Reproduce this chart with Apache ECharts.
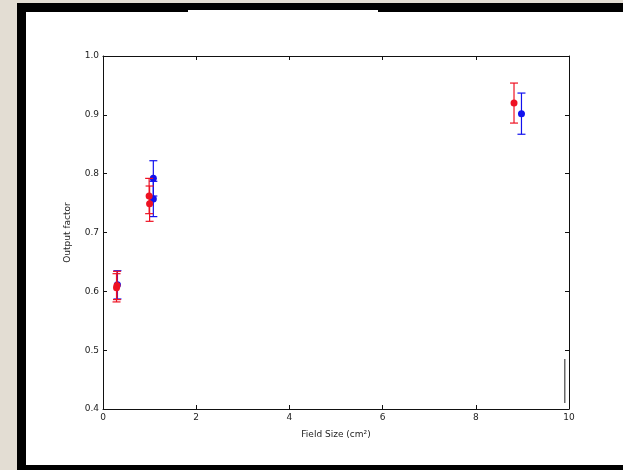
<!DOCTYPE html>
<html><head><meta charset="utf-8">
<script src="https://cdn.jsdelivr.net/npm/echarts@6/dist/echarts.min.js"></script>
<style>html,body{margin:0;padding:0;background:#fff}#c{width:623px;height:470px}</style>
</head><body><div id="c"></div>
<script>
// Field size (cm²) and output factor values, red series
const redX = [0.29, 0.30, 0.99, 1.00, 8.82];
const redY = [0.606, 0.610, 0.762, 0.749, 0.920];
const redErr = [0.024, 0.024, 0.030, 0.030, 0.034];
// blue series
const blueX = [0.31, 1.08, 1.08, 8.98];
const blueY = [0.611, 0.792, 0.757, 0.902];
const blueErr = [0.024, 0.030, 0.030, 0.035];
// axis ticks
const xTicks = [0, 2, 4, 6, 8, 10];
const yTicks = [0.4, 0.5, 0.6, 0.7, 0.8, 0.9, 1.0];
// stray line visible in the image
const strayX = [9.91, 9.91];
const strayY = [0.41, 0.485];

const RED = '#ee1122', BLUE = '#1111ee';
const FONT = 'DejaVu Sans';

function errData(xs, ys, es) { return xs.map((x, i) => [x, ys[i] - es[i], ys[i] + es[i]]); }
function errSeries(xs, ys, es, color, z) {
  return {
    type: 'custom', data: errData(xs, ys, es), z: z, silent: true,
    renderItem: function (params, api) {
      const lo = api.coord([api.value(0), api.value(1)]);
      const hi = api.coord([api.value(0), api.value(2)]);
      const w = 4;
      const st = { stroke: color, lineWidth: 1.2 };
      return { type: 'group', children: [
        { type: 'line', shape: { x1: lo[0], y1: lo[1], x2: hi[0], y2: hi[1] }, style: st },
        { type: 'line', shape: { x1: lo[0] - w, y1: lo[1], x2: lo[0] + w, y2: lo[1] }, style: st },
        { type: 'line', shape: { x1: hi[0] - w, y1: hi[1], x2: hi[0] + w, y2: hi[1] }, style: st }
      ]};
    }
  };
}
function pts(xs, ys) { return xs.map((x, i) => [x, ys[i]]); }

const axisCommon = {
  axisLine: { show: true, onZero: false, lineStyle: { color: '#111', width: 1 } },
  axisTick: { show: true, inside: true, length: 4, lineStyle: { color: '#111' } },
  splitLine: { show: false }
};

const chart = echarts.init(document.getElementById('c'));
chart.setOption({
  animation: false,
  backgroundColor: '#fff',
  graphic: [
    { type: 'rect', shape: { x: 0, y: 0, width: 17, height: 470 }, style: { fill: '#e3ddd3' }, z: -10 },
    { type: 'rect', shape: { x: 0, y: 0, width: 623, height: 3 }, style: { fill: '#e3ddd3' }, z: -10 },
    { type: 'rect', shape: { x: 17, y: 3, width: 9, height: 467 }, style: { fill: '#000' }, z: -9 },
    { type: 'rect', shape: { x: 17, y: 3, width: 171, height: 9 }, style: { fill: '#000' }, z: -9 },
    { type: 'rect', shape: { x: 188, y: 3, width: 190, height: 7 }, style: { fill: '#000' }, z: -9 },
    { type: 'rect', shape: { x: 378, y: 3, width: 245, height: 9 }, style: { fill: '#000' }, z: -9 },
    { type: 'rect', shape: { x: 17, y: 465, width: 606, height: 5 }, style: { fill: '#000' }, z: -9 }
  ],
  grid: { left: 103, right: 54, top: 56, bottom: 61, containLabel: false },
  xAxis: [
    Object.assign({ type: 'value', min: 0, max: 10, interval: 2, position: 'bottom',
      name: 'Field Size (cm²)', nameLocation: 'middle', nameGap: 21,
      nameTextStyle: { fontFamily: FONT, fontSize: 9, color: '#222' },
      axisLabel: { fontFamily: FONT, fontSize: 9, color: '#222', margin: 4,
        formatter: v => xTicks.includes(v) ? String(v) : '' } }, axisCommon),
    Object.assign({ type: 'value', min: 0, max: 10, interval: 2, position: 'top',
      axisLabel: { show: false } }, axisCommon)
  ],
  yAxis: [
    Object.assign({ type: 'value', min: 0.4, max: 1.0, interval: 0.1, position: 'left',
      name: 'Output factor', nameLocation: 'middle', nameGap: 31, nameRotate: 90,
      nameTextStyle: { fontFamily: FONT, fontSize: 9, color: '#222' },
      axisLabel: { fontFamily: FONT, fontSize: 9, color: '#222', margin: 4,
        formatter: v => { const t = yTicks.find(y => Math.abs(y - v) < 1e-9); return t !== undefined ? t.toFixed(1) : ''; } } }, axisCommon),
    Object.assign({ type: 'value', min: 0.4, max: 1.0, interval: 0.1, position: 'right',
      axisLabel: { show: false } }, axisCommon)
  ],
  series: [
    errSeries(blueX, blueY, blueErr, BLUE, 3),
    { type: 'scatter', data: pts(blueX, blueY), symbolSize: 7, itemStyle: { color: BLUE, opacity: 1 }, z: 4 },
    errSeries(redX, redY, redErr, RED, 5),
    { type: 'scatter', data: pts(redX, redY), symbolSize: 7, itemStyle: { color: RED, opacity: 1 }, z: 6 },
    { type: 'line', data: pts(strayX, strayY), symbol: 'none', lineStyle: { color: '#444', width: 1.2 }, z: 2, silent: true }
  ]
});
</script></body></html>
